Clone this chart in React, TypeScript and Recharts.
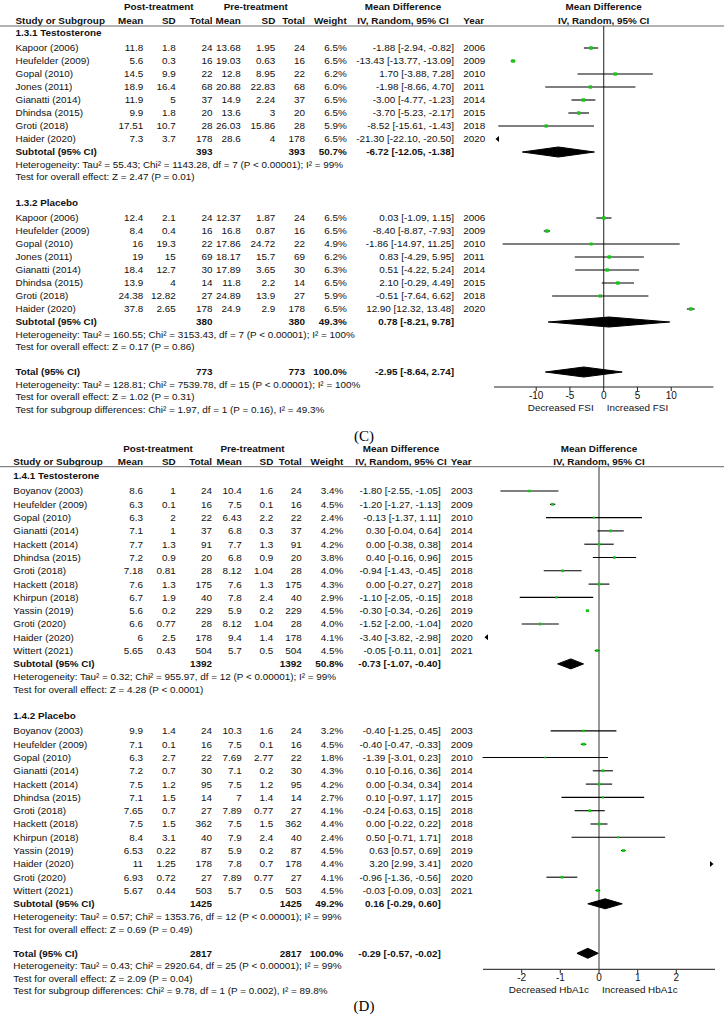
import React from "react";
import { ScatterChart, Scatter, XAxis, YAxis, ErrorBar, ReferenceLine } from "recharts";

const FONT = '"Liberation Sans", Arial, Helvetica, sans-serif';
const INK = "#111";
const GREEN = "#12c812";
const FS = 9.9;

// ---------- (C) FSI, subgroup 1.3.1 Testosterone ----------
const c1Names = ["Kapoor (2006)", "Heufelder (2009)", "Gopal (2010)", "Jones (2011)", "Gianatti (2014)", "Dhindsa (2015)", "Groti (2018)", "Haider (2020)"];
const c1Years = [2006, 2009, 2010, 2011, 2014, 2015, 2018, 2020];
const c1Post = [[11.8, 1.8, 24], [5.6, 0.3, 16], [14.5, 9.9, 22], [18.9, 16.4, 68], [11.9, 5, 37], [9.9, 1.8, 20], [17.51, 10.7, 28], [7.3, 3.7, 178]];
const c1Pre = [[13.68, 1.95, 24], [19.03, 0.63, 16], [12.8, 8.95, 22], [20.88, 22.83, 68], [14.9, 2.24, 37], [13.6, 3, 20], [26.03, 15.86, 28], [28.6, 4, 178]];
const c1Weight = [6.5, 6.5, 6.2, 6.0, 6.5, 6.5, 5.9, 6.5];
const c1MD = [[-1.88, -2.94, -0.82], [-13.43, -13.77, -13.09], [1.7, -3.88, 7.28], [-1.98, -8.66, 4.7], [-3.0, -4.77, -1.23], [-3.7, -5.23, -2.17], [-8.52, -15.61, -1.43], [-21.3, -22.1, -20.5]];
const c1SubN = [393, 393];
const c1SubW = 50.7;
const c1SubMD = [-6.72, -12.05, -1.38];
const c1Stats = ["Heterogeneity: Tau\u00b2 = 55.43; Chi\u00b2 = 1143.28, df = 7 (P < 0.00001); I\u00b2 = 99%", "Test for overall effect: Z = 2.47 (P = 0.01)"];

// ---------- (C) subgroup 1.3.2 Placebo ----------
const c2Names = ["Kapoor (2006)", "Heufelder (2009)", "Gopal (2010)", "Jones (2011)", "Gianatti (2014)", "Dhindsa (2015)", "Groti (2018)", "Haider (2020)"];
const c2Years = [2006, 2009, 2010, 2011, 2014, 2015, 2018, 2020];
const c2Post = [[12.4, 2.1, 24], [8.4, 0.4, 16], [16, 19.3, 22], [19, 15, 69], [18.4, 12.7, 30], [13.9, 4, 14], [24.38, 12.82, 27], [37.8, 2.65, 178]];
const c2Pre = [[12.37, 1.87, 24], [16.8, 0.87, 16], [17.86, 24.72, 22], [18.17, 15.7, 69], [17.89, 3.65, 30], [11.8, 2.2, 14], [24.89, 13.9, 27], [24.9, 2.9, 178]];
const c2Weight = [6.5, 6.5, 4.9, 6.2, 6.3, 6.5, 5.9, 6.5];
const c2MD = [[0.03, -1.09, 1.15], [-8.4, -8.87, -7.93], [-1.86, -14.97, 11.25], [0.83, -4.29, 5.95], [0.51, -4.22, 5.24], [2.1, -0.29, 4.49], [-0.51, -7.64, 6.62], [12.9, 12.32, 13.48]];
const c2SubN = [380, 380];
const c2SubW = 49.3;
const c2SubMD = [0.78, -8.21, 9.78];
const c2Stats = ["Heterogeneity: Tau\u00b2 = 160.55; Chi\u00b2 = 3153.43, df = 7 (P < 0.00001); I\u00b2 = 100%", "Test for overall effect: Z = 0.17 (P = 0.86)"];

const cTotalN = [773, 773];
const cTotalMD = [-2.95, -8.64, 2.74];
const cTotalStats = [
  "Heterogeneity: Tau\u00b2 = 128.81; Chi\u00b2 = 7539.78, df = 15 (P < 0.00001); I\u00b2 = 100%",
  "Test for overall effect: Z = 1.02 (P = 0.31)",
  "Test for subgroup differences: Chi\u00b2 = 1.97, df = 1 (P = 0.16), I\u00b2 = 49.3%",
];
const cTicks = [-10, -5, 0, 5, 10];

// ---------- (D) HbA1c, subgroup 1.4.1 Testosterone ----------
const d1Names = ["Boyanov (2003)", "Heufelder (2009)", "Gopal (2010)", "Gianatti (2014)", "Hackett (2014)", "Dhindsa (2015)", "Groti (2018)", "Hackett (2018)", "Khirpun (2018)", "Yassin (2019)", "Groti (2020)", "Haider (2020)", "Wittert (2021)"];
const d1Years = [2003, 2009, 2010, 2014, 2014, 2015, 2018, 2018, 2018, 2019, 2020, 2020, 2021];
const d1Post = [[8.6, 1, 24], [6.3, 0.1, 16], [6.3, 2, 22], [7.1, 1, 37], [7.7, 1.3, 91], [7.2, 0.9, 20], [7.18, 0.81, 28], [7.6, 1.3, 175], [6.7, 1.9, 40], [5.6, 0.2, 229], [6.6, 0.77, 28], [6, 2.5, 178], [5.65, 0.43, 504]];
const d1Pre = [[10.4, 1.6, 24], [7.5, 0.1, 16], [6.43, 2.2, 22], [6.8, 0.3, 37], [7.7, 1.3, 91], [6.8, 0.9, 20], [8.12, 1.04, 28], [7.6, 1.3, 175], [7.8, 2.4, 40], [5.9, 0.2, 229], [8.12, 1.04, 28], [9.4, 1.4, 178], [5.7, 0.5, 504]];
const d1Weight = [3.4, 4.5, 2.4, 4.2, 4.2, 3.8, 4.0, 4.3, 2.9, 4.5, 4.0, 4.1, 4.5];
const d1MD = [[-1.8, -2.55, -1.05], [-1.2, -1.27, -1.13], [-0.13, -1.37, 1.11], [0.3, -0.04, 0.64], [0, -0.38, 0.38], [0.4, -0.16, 0.96], [-0.94, -1.43, -0.45], [0, -0.27, 0.27], [-1.1, -2.05, -0.15], [-0.3, -0.34, -0.26], [-1.52, -2.0, -1.04], [-3.4, -3.82, -2.98], [-0.05, -0.11, 0.01]];
const d1SubN = [1392, 1392];
const d1SubW = 50.8;
const d1SubMD = [-0.73, -1.07, -0.4];
const d1Stats = ["Heterogeneity: Tau\u00b2 = 0.32; Chi\u00b2 = 955.97, df = 12 (P < 0.00001); I\u00b2 = 99%", "Test for overall effect: Z = 4.28 (P < 0.0001)"];

// ---------- (D) subgroup 1.4.2 Placebo ----------
const d2Names = ["Boyanov (2003)", "Heufelder (2009)", "Gopal (2010)", "Gianatti (2014)", "Hackett (2014)", "Dhindsa (2015)", "Groti (2018)", "Hackett (2018)", "Khirpun (2018)", "Yassin (2019)", "Haider (2020)", "Groti (2020)", "Wittert (2021)"];
const d2Years = [2003, 2009, 2010, 2014, 2014, 2015, 2018, 2018, 2018, 2019, 2020, 2020, 2021];
const d2Post = [[9.9, 1.4, 24], [7.1, 0.1, 16], [6.3, 2.7, 22], [7.2, 0.7, 30], [7.5, 1.2, 95], [7.1, 1.5, 14], [7.65, 0.7, 27], [7.5, 1.5, 362], [8.4, 3.1, 40], [6.53, 0.22, 87], [11, 1.25, 178], [6.93, 0.72, 27], [5.67, 0.44, 503]];
const d2Pre = [[10.3, 1.6, 24], [7.5, 0.1, 16], [7.69, 2.77, 22], [7.1, 0.2, 30], [7.5, 1.2, 95], [7, 1.4, 14], [7.89, 0.77, 27], [7.5, 1.5, 362], [7.9, 2.4, 40], [5.9, 0.2, 87], [7.8, 0.7, 178], [7.89, 0.77, 27], [5.7, 0.5, 503]];
const d2Weight = [3.2, 4.5, 1.8, 4.3, 4.2, 2.7, 4.1, 4.4, 2.4, 4.5, 4.4, 4.1, 4.5];
const d2MD = [[-0.4, -1.25, 0.45], [-0.4, -0.47, -0.33], [-1.39, -3.01, 0.23], [0.1, -0.16, 0.36], [0, -0.34, 0.34], [0.1, -0.97, 1.17], [-0.24, -0.63, 0.15], [0, -0.22, 0.22], [0.5, -0.71, 1.71], [0.63, 0.57, 0.69], [3.2, 2.99, 3.41], [-0.96, -1.36, -0.56], [-0.03, -0.09, 0.03]];
const d2SubN = [1425, 1425];
const d2SubW = 49.2;
const d2SubMD = [0.16, -0.29, 0.6];
const d2Stats = ["Heterogeneity: Tau\u00b2 = 0.57; Chi\u00b2 = 1353.76, df = 12 (P < 0.00001); I\u00b2 = 99%", "Test for overall effect: Z = 0.69 (P = 0.49)"];

const dTotalN = [2817, 2817];
const dTotalMD = [-0.29, -0.57, -0.02];
const dTotalStats = [
  "Heterogeneity: Tau\u00b2 = 0.43; Chi\u00b2 = 2920.64, df = 25 (P < 0.00001); I\u00b2 = 99%",
  "Test for overall effect: Z = 2.09 (P = 0.04)",
  "Test for subgroup differences: Chi\u00b2 = 9.78, df = 1 (P = 0.002), I\u00b2 = 89.8%",
];
const dTicks = [-2, -1, 0, 1, 2];

// ---------- panel setup ----------
const grp = (title, names, years, post, pre, weight, md, subN, subW, subMD, stats) => ({ title, names, years, post, pre, weight, md, subN, subW, subMD, stats });

const panelC = {
  top: 0,
  groups: [
    grp("1.3.1 Testosterone", c1Names, c1Years, c1Post, c1Pre, c1Weight, c1MD, c1SubN, c1SubW, c1SubMD, c1Stats),
    grp("1.3.2 Placebo", c2Names, c2Years, c2Post, c2Pre, c2Weight, c2MD, c2SubN, c2SubW, c2SubMD, c2Stats),
  ],
  total: { n: cTotalN, md: cTotalMD, stats: cTotalStats },
  domain: [-16.25, 16.25],
  ticks: cTicks,
  labels: ["Decreased FSI", "Increased FSI"],
  caption: "(C)",
  g: {
    hdr1: 6.5, hdr2: 20.5, line: 26,
    firstGroup: 33, groupToStudy: 15, step: 13, subToHet: 12.5, statStep: 12.5, testToGroup: 26, testToTotal: 25, totalToAxis: 15,
    labelGap: 21, captionY: 436,
    cols: { name: 15.5, postMean: 143.3, postSD: 175.7, postN: 212.5, preMean: 240.7, preSD: 275.3, preN: 305, weight: 346.7, md: 454, year: 463.3 },
    hdrPost: 158.8, hdrPre: 255.8, hdrMD: 403,
    plotL: 494, plotR: 713.4,
    zero: "#333", zeroW: 1.1, axis: "#222", axisW: 1,
  },
};

const panelD = {
  top: 440,
  groups: [
    grp("1.4.1 Testosterone", d1Names, d1Years, d1Post, d1Pre, d1Weight, d1MD, d1SubN, d1SubW, d1SubMD, d1Stats),
    grp("1.4.2 Placebo", d2Names, d2Years, d2Post, d2Pre, d2Weight, d2MD, d2SubN, d2SubW, d2SubMD, d2Stats),
  ],
  total: { n: dTotalN, md: dTotalMD, stats: dTotalStats },
  domain: [-3, 3],
  ticks: dTicks,
  labels: ["Decreased HbA1c", "Increased HbA1c"],
  caption: "(D)",
  g: {
    hdr1: 8.3, hdr2: 21.7, line: 26.7,
    firstGroup: 36, groupToStudy: 15, step: 13.3, subToHet: 13, statStep: 12.5, testToGroup: 26.5, testToTotal: 24, totalToAxis: 16,
    labelGap: 20, captionY: 566,
    cols: { name: 13.3, postMean: 143, postSD: 175.7, postN: 212, preMean: 241.7, preSD: 273.3, preN: 301.7, weight: 343.3, md: 440.7, year: 450.7 },
    hdrPost: 158, hdrPre: 252.5, hdrMD: 401,
    plotL: 483, plotR: 715,
    zero: "#777", zeroW: 1.5, axis: "#444", axisW: 1.2,
  },
};

const DIAMOND_H = 5;
const fmt = (v) => v.toFixed(2);
const ci = ([m, lo, hi]) => `${fmt(m)} [${fmt(lo)}, ${fmt(hi)}]`;

function layoutRows(groups, total, g) {
  const rows = [];
  let y = g.firstGroup;
  groups.forEach((gr, gi) => {
    if (gi > 0) y += g.testToGroup;
    rows.push({ kind: "group", y, text: gr.title });
    y += g.groupToStudy;
    gr.names.forEach((_, i) => {
      if (i > 0) y += g.step;
      rows.push({ kind: "study", y, gi, i });
    });
    y += g.step;
    rows.push({ kind: "sub", y, gi });
    y += g.subToHet;
    rows.push({ kind: "stat", y, text: gr.stats[0] });
    y += g.statStep;
    rows.push({ kind: "stat", y, text: gr.stats[1] });
  });
  y += g.testToTotal;
  rows.push({ kind: "total", y });
  total.stats.forEach((s) => {
    y += g.statStep;
    rows.push({ kind: "stat", y, text: s });
  });
  return rows;
}

const Txt = ({ x, y, a = "start", b = false, children }) => (
  <text x={x} y={y} dy="0.35em" textAnchor={a} fontWeight={b ? 700 : 400} fontSize={FS} fill={INK} fontFamily={FONT}>
    {children}
  </text>
);

const Square = (p) => {
  const s = 1.35 * Math.sqrt(p.payload.w);
  return <rect x={p.cx - s / 2} y={p.cy - s / 2} width={s} height={s} fill={GREEN} />;
};

const Arrow = (p) => {
  const d = p.payload.dir;
  const tip = p.cx - d * 1.5;
  const base = p.cx - d * 5;
  return <polygon points={`${tip},${p.cy} ${base},${p.cy - 3} ${base},${p.cy + 3}`} fill="#000" />;
};

const Nothing = () => <g />;

function ForestPanel({ cfg }) {
  const g = cfg.g;
  const c = g.cols;
  const rows = layoutRows(cfg.groups, cfg.total, g);
  const totalRow = rows.find((r) => r.kind === "total");
  const axisY = totalRow.y + g.totalToAxis;
  const [d0, d1] = cfg.domain;
  const zeroX = g.plotL + ((0 - d0) / (d1 - d0)) * (g.plotR - g.plotL);
  const xAxisH = 30;
  const chartH = axisY + xAxisH;

  const points = [];
  const arrows = [];
  const diamonds = [];
  rows.forEach((r) => {
    if (r.kind === "study") {
      const gr = cfg.groups[r.gi];
      const [m, lo, hi] = gr.md[r.i];
      if (m < d0 || m > d1) arrows.push({ x: Math.min(Math.max(m, d0), d1), y: r.y, dir: m < d0 ? -1 : 1 });
      else points.push({ x: m, y: r.y, err: [m - lo, hi - m], w: gr.weight[r.i] });
    } else if (r.kind === "sub" || r.kind === "total") {
      const [m, lo, hi] = r.kind === "sub" ? cfg.groups[r.gi].subMD : cfg.total.md;
      diamonds.push([
        { x: lo, y: r.y },
        { x: m, y: r.y - DIAMOND_H },
        { x: hi, y: r.y },
        { x: m, y: r.y + DIAMOND_H },
        { x: lo, y: r.y },
      ]);
    }
  });

  const tableText = rows.map((r, k) => {
    if (r.kind === "group") return <Txt key={k} x={c.name} y={r.y} b>{r.text}</Txt>;
    if (r.kind === "stat") return <Txt key={k} x={c.name} y={r.y}>{r.text}</Txt>;
    if (r.kind === "study") {
      const gr = cfg.groups[r.gi];
      const po = gr.post[r.i];
      const pr = gr.pre[r.i];
      return (
        <g key={k}>
          <Txt x={c.name} y={r.y}>{gr.names[r.i]}</Txt>
          <Txt x={c.postMean} y={r.y} a="end">{String(po[0])}</Txt>
          <Txt x={c.postSD} y={r.y} a="end">{String(po[1])}</Txt>
          <Txt x={c.postN} y={r.y} a="end">{String(po[2])}</Txt>
          <Txt x={c.preMean} y={r.y} a="end">{String(pr[0])}</Txt>
          <Txt x={c.preSD} y={r.y} a="end">{String(pr[1])}</Txt>
          <Txt x={c.preN} y={r.y} a="end">{String(pr[2])}</Txt>
          <Txt x={c.weight} y={r.y} a="end">{gr.weight[r.i].toFixed(1) + "%"}</Txt>
          <Txt x={c.md} y={r.y} a="end">{ci(gr.md[r.i])}</Txt>
          <Txt x={c.year} y={r.y}>{String(gr.years[r.i])}</Txt>
        </g>
      );
    }
    const isSub = r.kind === "sub";
    const gr = isSub ? cfg.groups[r.gi] : null;
    const n = isSub ? gr.subN : cfg.total.n;
    const w = isSub ? gr.subW : 100;
    const md = isSub ? gr.subMD : cfg.total.md;
    return (
      <g key={k}>
        <Txt x={c.name} y={r.y} b>{isSub ? "Subtotal (95% CI)" : "Total (95% CI)"}</Txt>
        <Txt x={c.postN} y={r.y} a="end" b>{String(n[0])}</Txt>
        <Txt x={c.preN} y={r.y} a="end" b>{String(n[1])}</Txt>
        <Txt x={c.weight} y={r.y} a="end" b>{w.toFixed(1) + "%"}</Txt>
        <Txt x={c.md} y={r.y} a="end" b>{ci(md)}</Txt>
      </g>
    );
  });

  return (
    <div style={{ position: "absolute", left: 0, top: cfg.top, width: 728, height: chartH }}>
      <svg width={728} height={chartH + 20} style={{ position: "absolute", left: 0, top: 0, overflow: "visible" }}>
        <Txt x={g.hdrPost} y={g.hdr1} a="middle" b>Post-treatment</Txt>
        <Txt x={g.hdrPre} y={g.hdr1} a="middle" b>Pre-treatment</Txt>
        <Txt x={g.hdrMD} y={g.hdr1} a="middle" b>Mean Difference</Txt>
        <Txt x={zeroX} y={g.hdr1} a="middle" b>Mean Difference</Txt>
        <Txt x={c.name} y={g.hdr2} b>Study or Subgroup</Txt>
        <Txt x={c.postMean} y={g.hdr2} a="end" b>Mean</Txt>
        <Txt x={c.postSD} y={g.hdr2} a="end" b>SD</Txt>
        <Txt x={c.postN} y={g.hdr2} a="end" b>Total</Txt>
        <Txt x={c.preMean} y={g.hdr2} a="end" b>Mean</Txt>
        <Txt x={c.preSD} y={g.hdr2} a="end" b>SD</Txt>
        <Txt x={c.preN} y={g.hdr2} a="end" b>Total</Txt>
        <Txt x={c.weight} y={g.hdr2} a="end" b>Weight</Txt>
        <Txt x={g.hdrMD} y={g.hdr2} a="middle" b>IV, Random, 95% CI</Txt>
        <Txt x={c.year} y={g.hdr2} b>Year</Txt>
        <Txt x={zeroX} y={g.hdr2} a="middle" b>IV, Random, 95% CI</Txt>
        <line x1={0} x2={724} y1={g.line} y2={g.line} stroke="#666" strokeWidth={1} />
        {tableText}
        <Txt x={zeroX - 10} y={axisY + g.labelGap} a="end">{cfg.labels[0]}</Txt>
        <Txt x={zeroX + 3} y={axisY + g.labelGap} a="start">{cfg.labels[1]}</Txt>
        <text x={364} y={g.captionY} dy="0.35em" textAnchor="middle" fontSize={15} fill="#000" fontFamily='"Liberation Serif", "Times New Roman", serif'>
          {cfg.caption}
        </text>
      </svg>
      <div style={{ position: "absolute", left: 0, top: 0 }}>
        <ScatterChart width={728} height={chartH} margin={{ top: g.line, right: 728 - g.plotR, bottom: 0, left: g.plotL }}>
          <XAxis
            dataKey="x"
            type="number"
            domain={cfg.domain}
            allowDataOverflow
            ticks={cfg.ticks}
            interval={0}
            height={xAxisH}
            tickSize={4}
            tickMargin={1}
            axisLine={{ stroke: g.axis, strokeWidth: g.axisW }}
            tickLine={{ stroke: g.axis, strokeWidth: g.axisW }}
            tick={{ fontSize: 10, fill: INK, fontFamily: FONT }}
          />
          <YAxis dataKey="y" type="number" domain={[g.line, axisY]} reversed allowDataOverflow hide width={0} />
          <ReferenceLine x={0} stroke={g.zero} strokeWidth={g.zeroW} />
          <Scatter data={points} shape={Square} isAnimationActive={false}>
            <ErrorBar dataKey="err" direction="x" width={0} stroke="#000" strokeWidth={1.1} isAnimationActive={false} />
          </Scatter>
          <Scatter data={arrows} shape={Arrow} isAnimationActive={false} />
          {diamonds.map((d, k) => (
            <Scatter
              key={k}
              data={d}
              shape={Nothing}
              line={{ fill: "#000", stroke: "#000", strokeWidth: 1 }}
              lineType="joint"
              isAnimationActive={false}
            />
          ))}
        </ScatterChart>
      </div>
    </div>
  );
}

export default function App() {
  return (
    <div style={{ position: "relative", width: 728, height: 1024, background: "#fff", overflow: "hidden" }}>
      <style>{`body{margin:0}`}</style>
      <ForestPanel cfg={panelC} />
      <ForestPanel cfg={panelD} />
    </div>
  );
}
